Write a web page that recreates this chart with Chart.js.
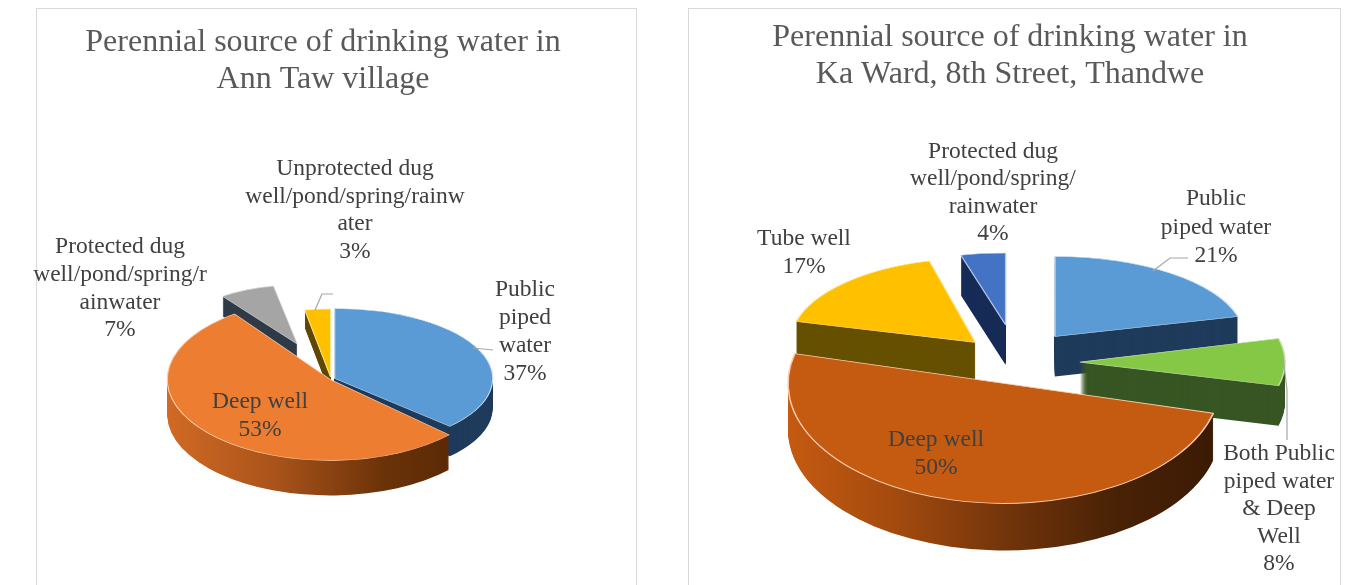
<!DOCTYPE html>
<html>
<head>
<meta charset="utf-8">
<script src="https://cdn.jsdelivr.net/npm/chart.js@4/dist/chart.umd.min.js"></script>
<style>
    html, body { margin: 0; padding: 0; background: #fff; overflow: hidden; }
    .frame { position: absolute; top: 8px; height: 590px; border: 1px solid #d9d9d9; box-sizing: border-box; }
    .holder { position: absolute; top: 0; height: 585px; }
</style>
</head>
<body>
<div class="frame" style="left:36px;width:601px"></div>
<div class="frame" style="left:688px;width:653px"></div>
<div class="holder" style="left:0;width:646px"><canvas id="annTaw"></canvas></div>
<div class="holder" style="left:684px;width:652px"><canvas id="kaWard"></canvas></div>
<script>
const titleAnnTaw = ["Perennial source of drinking water in", "Ann Taw village"];
const categoriesAnnTaw = ["Public piped water", "Deep well", "Protected dug well/pond/spring/rainwater", "Unprotected dug well/pond/spring/rainwater"];
const valuesAnnTaw = [37, 53, 7, 3];
const wrappedAnnTaw = [
    ["Public", "piped", "water"],
    ["Deep well"],
    ["Protected dug", "well/pond/spring/r", "ainwater"],
    ["Unprotected dug", "well/pond/spring/rainw", "ater"]
];

const titleKaWard = ["Perennial source of drinking water in", "Ka Ward, 8th Street, Thandwe"];
const categoriesKaWard = ["Public piped water", "Both Public piped water & Deep Well", "Deep well", "Tube well", "Protected dug well/pond/spring/rainwater"];
const valuesKaWard = [21, 8, 50, 17, 4];
const wrappedKaWard = [
    ["Public", "piped water"],
    ["Both Public", "piped water", "& Deep", "Well"],
    ["Deep well"],
    ["Tube well"],
    ["Protected dug", "well/pond/spring/", "rainwater"]
];

const baseRadius = 200;

// the 3d look: squash the pie, stack darker copies under every slice
const pie3d = {
    id: "pie3d",
    beforeDatasetDraw(chart, args, opts) {
        const ctx = chart.ctx;
        const arcs = chart.getDatasetMeta(0).data;
        opts.order.forEach(i => {
            const arc = arcs[i];
            const o = arc.options;
            const mid = (arc.startAngle + arc.endAngle) / 2;
            const tx = Math.cos(mid) * o.offset + opts.shiftX;
            const ty = Math.sin(mid) * o.offset * opts.squash;
            const sx = opts.rx[i] / baseRadius;
            const sy = opts.ry[i] / baseRadius;
            const saved = arc.options;
            const place = (extra) => {
                ctx.save();
                ctx.translate(arc.x + tx, arc.y + ty + extra);
                ctx.scale(sx, sy);
                ctx.translate(-arc.x, -arc.y);
            };
            let side = opts.side[i];
            if (Array.isArray(side)) {
                const g = ctx.createLinearGradient(arc.x - baseRadius, 0, arc.x + baseRadius, 0);
                side.forEach((c, n) => g.addColorStop(n / (side.length - 1), c));
                side = g;
            }
            arc.options = {...saved, offset: 0, borderWidth: 0, backgroundColor: side, borderColor: side};
            for (let d = opts.depth[i]; d >= 1; d--) {
                place(d);
                arc.draw(ctx);
                ctx.restore();
            }
            arc.options = {...saved, offset: 0};
            place(0);
            arc.draw(ctx);
            ctx.restore();
            arc.options = saved;
        });
        return false;
    },
    afterDatasetsDraw(chart, args, opts) {
        const ctx = chart.ctx;
        ctx.save();
        ctx.strokeStyle = "#a6a6a6";
        ctx.lineWidth = 1.2;
        opts.leaders.forEach(line => {
            ctx.beginPath();
            line.forEach((p, n) => n ? ctx.lineTo(p[0], p[1]) : ctx.moveTo(p[0], p[1]));
            ctx.stroke();
        });
        ctx.fillStyle = "#404040";
        ctx.font = "23.5px 'Liberation Serif'";
        ctx.textAlign = "center";
        ctx.textBaseline = "middle";
        opts.wrapped.forEach((lines, i) => {
            const all = lines.concat(chart.data.datasets[0].data[i] + "%");
            const spot = opts.labelAt[i];
            all.forEach((t, n) => ctx.fillText(t, spot[0], spot[1] + n * spot[2]));
        });
        ctx.restore();
    }
};

function makePie(id, title, categories, values, wrapped, look) {
    new Chart(document.getElementById(id), {
        type: "pie",
        data: {
            labels: categories,
            datasets: [{
                data: values,
                backgroundColor: look.top,
                borderColor: look.edge,
                borderWidth: 1.5,
                offset: look.explode
            }]
        },
        options: {
            responsive: false,
            animation: false,
            radius: baseRadius,
            plugins: {
                legend: {display: false},
                tooltip: {enabled: false},
                title: {
                    display: true,
                    text: title,
                    color: "#595959",
                    font: {family: "'Liberation Serif'", size: 32, weight: "normal", lineHeight: 1.16},
                    padding: look.titlePad
                },
                pie3d: Object.assign({wrapped: wrapped}, look)
            }
        },
        plugins: [pie3d]
    });
}

const holders = [["annTaw", 646], ["kaWard", 652]];
holders.forEach(h => {
    const c = document.getElementById(h[0]);
    c.width = h[1];
    c.height = 585;
});

makePie("annTaw", titleAnnTaw, categoriesAnnTaw, valuesAnnTaw, wrappedAnnTaw, {
    shiftX: 8,
    titlePad: {top: 24, bottom: 75},
    squash: 0.45,
    order: [2, 3, 0, 1],
    top: ["#5b9bd5", "#ed7d31", "#a5a5a5", "#ffc000"],
    edge: ["#cfe0f1", "#f8cbad", "#dddddd", "#ffe699"],
    side: ["#1f3b5c", ["#d06a24", "#a9531a", "#6b3208", "#4f2504"], "#2f3b47", "#5f4800"],
    explode: [4, 1, 85, 5],
    rx: [158, 163, 127, 137],
    ry: [70, 81, 59, 68],
    depth: [30, 35, 20, 18],
    wrapped: wrappedAnnTaw,
    labelAt: [[525, 290, 28], [260, 402, 28], [120, 247, 27.7], [355, 169, 27.5]],
    leaders: [
        [[473, 348], [493, 350]],
        [[315, 310], [322, 294], [333, 294]]
    ]
});

makePie("kaWard", titleKaWard, categoriesKaWard, valuesKaWard, wrappedKaWard, {
    shiftX: 5,
    titlePad: {top: 19, bottom: 46},
    squash: 0.5,
    order: [4, 3, 0, 1, 2],
    top: ["#5b9bd5", "#84c846", "#c55a11", "#ffc000", "#4472c4"],
    edge: ["#cfe0f1", "#c5e0a8", "#f8cbad", "#ffe699", "#b4c7e7"],
    side: ["#1f3b5c", "#375623", ["#c55a11", "#a34a0e", "#73350a", "#4a2206", "#3a1a04"], "#665000", "#172b57"],
    explode: [65, 65, 44, 56, 75],
    rx: [189, 205, 216, 185, 180],
    ry: [80, 95, 120, 84, 72],
    depth: [40, 40, 47, 40, 40],
    wrapped: wrappedKaWard,
    labelAt: [[532, 199, 28.5], [595, 454, 27.5], [252, 440, 28], [120, 239, 28], [309, 152, 27.3]],
    leaders: [
        [[469, 271], [486, 258], [504, 258]],
        [[599, 355], [603, 390], [603, 440]]
    ]
});
</script>
</body>
</html>
